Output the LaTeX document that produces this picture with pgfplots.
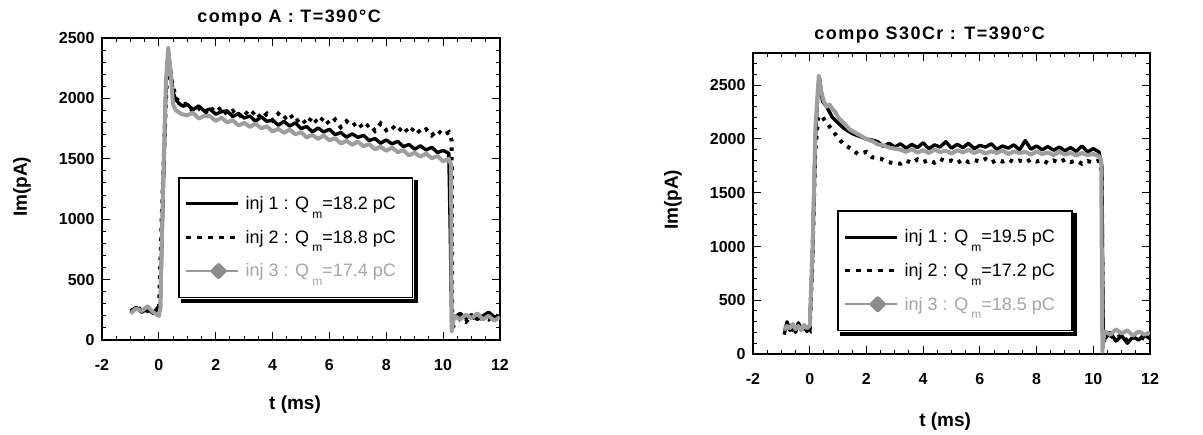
\documentclass[border=0pt]{standalone}
\usepackage{fontspec}
\setmainfont{Liberation Sans}
\newfontfamily\spaced[LetterSpace=8]{Liberation Sans}
\usepackage{pgfplots}
\pgfplotsset{compat=1.18}

\newcommand{\Qm}{Q\,\raisebox{-0.9ex}{\fontsize{12}{12}\selectfont m}}

\pgfplotsset{
  myaxis/.style={
    scale only axis, width=398pt, height=302pt,
    xmin=-2, xmax=12, ymin=0,
    xtick={-2,0,...,12}, minor xtick={-2,-1.5,...,12},
    axis line style={line width=1.3pt},
    every tick/.style={black, line width=1pt},
    major tick length=8pt, minor tick length=4pt,
    /pgf/number format/assume math mode=true,
    /pgf/number format/1000 sep={},
    ticklabel style={font=\bfseries\fontsize{16}{16}\selectfont},
    yticklabel style={xshift=-4pt},
    xticklabel style={yshift=-16pt},
    label style={font=\bfseries\fontsize{19}{19}\selectfont},
    title style={font=\spaced\bfseries\fontsize{18}{18}\selectfont},
    legend cell align=left,
    legend style={draw=black, line width=1.6pt, fill=white,
      font=\fontsize{18}{18}\selectfont, row sep=15pt, inner xsep=5pt, inner ysep=17pt,
      anchor=north west},
  },
  s1/.style={black, line width=3.4pt, line join=round,
    legend image code/.code={\draw[black, line width=3pt] (0pt,0pt) -- (52pt,0pt); \path (56pt,0pt);}},
  s2/.style={black, line width=4pt, dash pattern=on 3.5pt off 6pt,
    legend image code/.code={\draw[black, line width=3.5pt, dash pattern=on 5pt off 6pt] (0pt,0pt) -- (52pt,0pt); \path (56pt,0pt);}},
  s3/.style={black!38, line width=4pt, line join=round,
    legend image code/.code={\draw[black!40, line width=2pt] (0pt,0pt) -- (52pt,0pt);
      \fill[black!45] (27pt,0pt) -- (33pt,6pt) -- (39pt,0pt) -- (33pt,-6pt) -- cycle; \path (56pt,0pt);}},
}

\begin{document}
\begin{tikzpicture}
\path[use as bounding box] (0,0) rectangle (1203pt,435pt);

% ---------------- left panel ----------------
\begin{axis}[myaxis, at={(102pt,95pt)}, anchor=south west,
  ymax=2500, ytick={0,500,...,2500}, minor ytick={0,100,...,2500},
  title={compo A : T=390°C}, title style={at={(0.47,1)}, anchor=center, yshift=14pt},
  xlabel={t (ms)}, xlabel style={at={(0.485,-0.215)}, anchor=center},
  ylabel={Im(pA)}, ylabel style={at={(-0.201,0.507)}, anchor=center},
  legend style={at={(0.191,0.540)}, name=legL}]
\addplot[s1] coordinates {
(-1,240) (-0.8,270) (-0.6,230) (-0.4,260) (-0.2,220) (0,280) (0.05,260)
(0.15,1200) (0.25,2100) (0.33,2380) (0.4,2250) (0.5,2050) (0.6,1990) (0.7,1960) (0.85,1935)
(1.0,1950) (1.2,1907) (1.4,1938) (1.6,1895) (1.8,1912) (2.0,1869) (2.2,1890) (2.4,1897)
(2.6,1849) (2.8,1876) (3.0,1837) (3.2,1854) (3.4,1811) (3.6,1848) (3.8,1809) (4.0,1821)
(4.2,1778) (4.4,1810) (4.6,1771) (4.8,1798) (5.0,1750) (5.2,1767) (5.4,1723) (5.6,1755)
(5.8,1722) (6.0,1744) (6.2,1700) (6.4,1717) (6.6,1679) (6.8,1706) (7.0,1677) (7.2,1694)
(7.4,1651) (7.6,1668) (7.8,1629) (8.0,1656) (8.2,1623) (8.4,1645) (8.6,1601) (8.8,1618)
(9.0,1580) (9.2,1607) (9.4,1573) (9.6,1595) (9.8,1552) (10.0,1569) (10.2,1545)
(10.25,900) (10.3,150) (10.4,190) (10.6,220) (10.8,180) (11.0,210) (11.2,170) (11.4,200)
(11.6,230) (11.8,190) (12.0,200)
};
\addlegendentry{\makebox[160pt][l]{inj 1 : \Qm=18.2 pC}}
\addplot[s2] coordinates {
(-1,250) (-0.8,230) (-0.6,270) (-0.4,240) (-0.2,260) (0,230)
(0.1,1000) (0.25,2000) (0.33,2350) (0.45,2150) (0.6,2000) (0.8,1960)
(1.0,1950) (1.2,1890) (1.4,1920) (1.6,1871) (1.8,1926) (2.0,1886) (2.2,1926) (2.4,1867)
(2.6,1897) (2.8,1847) (3.0,1897) (3.2,1852) (3.4,1898) (3.6,1833) (3.8,1873) (4.0,1818)
(4.2,1873) (4.4,1829) (4.6,1874) (4.8,1804) (5.0,1839) (5.2,1784) (5.4,1850) (5.6,1790)
(5.8,1845) (6.0,1785) (6.2,1825) (6.4,1761) (6.6,1811) (6.8,1771) (7.0,1806) (7.2,1746)
(7.4,1787) (7.6,1732) (7.8,1792) (8.0,1737) (8.2,1772) (8.4,1723) (8.6,1768) (8.8,1708)
(9.0,1763) (9.2,1713) (9.4,1744) (9.6,1694) (9.8,1739) (10.0,1694) (10.2,1720)
(10.3,1650) (10.32,100) (10.4,130) (10.6,180) (10.8,150) (11.0,200) (11.2,160) (11.4,190)
(11.6,170) (11.8,210) (12.0,180)
};
\addlegendentry{\makebox[160pt][l]{inj 2 : \Qm=18.8 pC}}
\addplot[s3] coordinates {
(-1,220) (-0.8,260) (-0.6,240) (-0.4,280) (-0.2,230) (0,200) (0.05,260)
(0.15,1300) (0.25,2150) (0.33,2420) (0.42,2200) (0.5,1950) (0.6,1900) (0.8,1870)
(1.0,1860) (1.2,1882) (1.4,1833) (1.6,1855) (1.8,1852) (2.0,1814) (2.2,1840) (2.4,1802)
(2.6,1819) (2.8,1776) (3.0,1797) (3.2,1764) (3.4,1791) (3.6,1753) (3.8,1769) (4.0,1726)
(4.2,1748) (4.4,1715) (4.6,1741) (4.8,1703) (5.0,1720) (5.2,1677) (5.4,1698) (5.6,1665)
(5.8,1692) (6.0,1654) (6.2,1670) (6.4,1627) (6.6,1649) (6.8,1616) (7.0,1642) (7.2,1604)
(7.4,1621) (7.6,1578) (7.8,1599) (8.0,1566) (8.2,1593) (8.4,1555) (8.6,1571) (8.8,1528)
(9.0,1550) (9.2,1517) (9.4,1543) (9.6,1505) (9.8,1522) (10.0,1479) (10.2,1500)
(10.28,1450) (10.3,70) (10.35,150) (10.4,200) (10.6,170) (10.8,210) (11.0,180) (11.2,220)
(11.4,170) (11.6,200) (11.8,160) (12.0,190)
};
\addlegendentry{\makebox[160pt][l]{\color{black!35}inj 3 : \Qm=17.4 pC}}
\end{axis}
\fill[black] ([xshift=3pt,yshift=-0.8pt]legL.south west) rectangle ([xshift=4.5pt,yshift=-4.5pt]legL.south east);
\fill[black] ([xshift=0.8pt,yshift=-3pt]legL.north east) rectangle ([xshift=4.5pt,yshift=-4.5pt]legL.south east);

% ---------------- right panel ----------------
\begin{axis}[myaxis, at={(753pt,81pt)}, anchor=south west, width=397pt, height=301pt,
  ymax=2800, ytick={0,500,...,2500}, minor ytick={0,100,...,2800},
  title={compo S30Cr : T=390°C}, title style={at={(0.445,1)}, anchor=center, yshift=12pt},
  xlabel={t (ms)}, xlabel style={at={(0.484,-0.226)}, anchor=center},
  ylabel={Im(pA)}, ylabel style={at={(-0.2015,0.512)}, anchor=center},
  legend style={at={(0.212,0.478)}, name=legR}]
\addplot[s1] coordinates {
(-0.9,180) (-0.8,300) (-0.7,220) (-0.6,270) (-0.5,200) (-0.4,290) (-0.3,230) (-0.2,260)
(-0.1,210) (0,250) (0.1,900) (0.2,2000) (0.3,2500) (0.35,2560) (0.45,2350) (0.6,2300)
(0.8,2200) (1.0,2150) (1.2,2100) (1.5,2050) (1.8,2020) (2.0,2000) (2.2,1990)
(2.4,1975) (2.6,1930) (2.8,1960) (3.0,1925) (3.2,1955) (3.4,1915) (3.6,1950) (3.8,1920)
(4.0,1965) (4.2,1910) (4.4,1945) (4.6,1925) (4.8,1975) (5.0,1915) (5.2,1950) (5.4,1920)
(5.6,1960) (5.8,1910) (6.0,1940) (6.2,1925) (6.4,1955) (6.6,1905) (6.8,1935) (7.0,1915)
(7.2,1945) (7.4,1900) (7.6,1985) (7.8,1905) (8.0,1935) (8.2,1900) (8.4,1930) (8.6,1895)
(8.8,1925) (9.0,1890) (9.2,1920) (9.4,1885) (9.6,1935) (9.8,1880) (10.0,1910) (10.2,1880)
(10.3,1750) (10.35,150) (10.4,140) (10.6,200) (10.8,120) (11.0,170) (11.2,100) (11.4,160)
(11.6,130) (11.8,180) (12.0,140)
};
\addlegendentry{\makebox[160pt][l]{inj 1 : \Qm=19.5 pC}}
\addplot[s2] coordinates {
(-0.9,250) (-0.7,200) (-0.5,280) (-0.3,220) (-0.1,260) (0,230)
(0.1,900) (0.2,1900) (0.3,2200) (0.4,2220) (0.6,2150) (0.8,2080) (1.0,2010) (1.2,1950)
(1.45,1911) (1.7,1860) (2.0,1880) (2.2,1830) (2.5,1818) (2.7,1790) (3.0,1772)
(3.2,1770) (3.4,1800) (3.6,1775) (3.8,1810) (4.0,1785) (4.2,1805) (4.4,1780) (4.6,1815)
(4.8,1790) (5.0,1800) (5.2,1775) (5.4,1810) (5.6,1785) (5.8,1805) (6.0,1790) (6.2,1815)
(6.4,1780) (6.6,1805) (6.8,1790) (7.0,1810) (7.2,1785) (7.4,1800) (7.6,1780) (7.8,1810)
(8.0,1790) (8.2,1805) (8.4,1775) (8.6,1800) (8.8,1780) (9.0,1810) (9.2,1785) (9.4,1800)
(9.6,1770) (9.8,1795) (10.0,1780) (10.2,1800)
(10.3,1700) (10.33,150) (10.4,130) (10.6,170) (10.8,140) (11.0,180) (11.2,120) (11.4,150)
(11.6,170) (11.8,140) (12.0,160)
};
\addlegendentry{\makebox[160pt][l]{inj 2 : \Qm=17.2 pC}}
\addplot[s3] coordinates {
(-0.9,220) (-0.8,260) (-0.7,240) (-0.6,280) (-0.5,230) (-0.4,260) (-0.3,220) (-0.2,270)
(-0.1,240) (0,260) (0.1,1000) (0.2,2100) (0.32,2590) (0.4,2450) (0.5,2350) (0.6,2300)
(0.7,2320) (0.8,2280) (0.9,2250) (1.0,2200) (1.2,2150) (1.4,2090) (1.6,2060) (1.8,2030)
(2.0,2000) (2.2,1980) (2.4,1950) (2.6,1940) (2.8,1920) (3.0,1910)
(3.2,1900) (3.4,1880) (3.6,1905) (3.8,1875) (4.0,1895) (4.2,1870) (4.4,1900) (4.6,1880)
(4.8,1890) (5.0,1865) (5.2,1895) (5.4,1875) (5.6,1900) (5.8,1870) (6.0,1890) (6.2,1865)
(6.4,1885) (6.6,1870) (6.8,1895) (7.0,1860) (7.2,1885) (7.4,1870) (7.6,1880) (7.8,1855)
(8.0,1885) (8.2,1860) (8.4,1875) (8.6,1850) (8.8,1880) (9.0,1855) (9.2,1870) (9.4,1845)
(9.6,1870) (9.8,1850) (10.0,1860) (10.2,1840)
(10.28,1800) (10.32,20) (10.38,180) (10.4,210) (10.6,180) (10.8,230) (11.0,190) (11.2,220)
(11.4,170) (11.6,210) (11.8,180) (12.0,200)
};
\addlegendentry{\makebox[160pt][l]{\color{black!35}inj 3 : \Qm=18.5 pC}}
\end{axis}
\fill[black] ([xshift=3pt,yshift=-0.8pt]legR.south west) rectangle ([xshift=4.5pt,yshift=-4.5pt]legR.south east);
\fill[black] ([xshift=0.8pt,yshift=-3pt]legR.north east) rectangle ([xshift=4.5pt,yshift=-4.5pt]legR.south east);
\end{tikzpicture}
\end{document}
